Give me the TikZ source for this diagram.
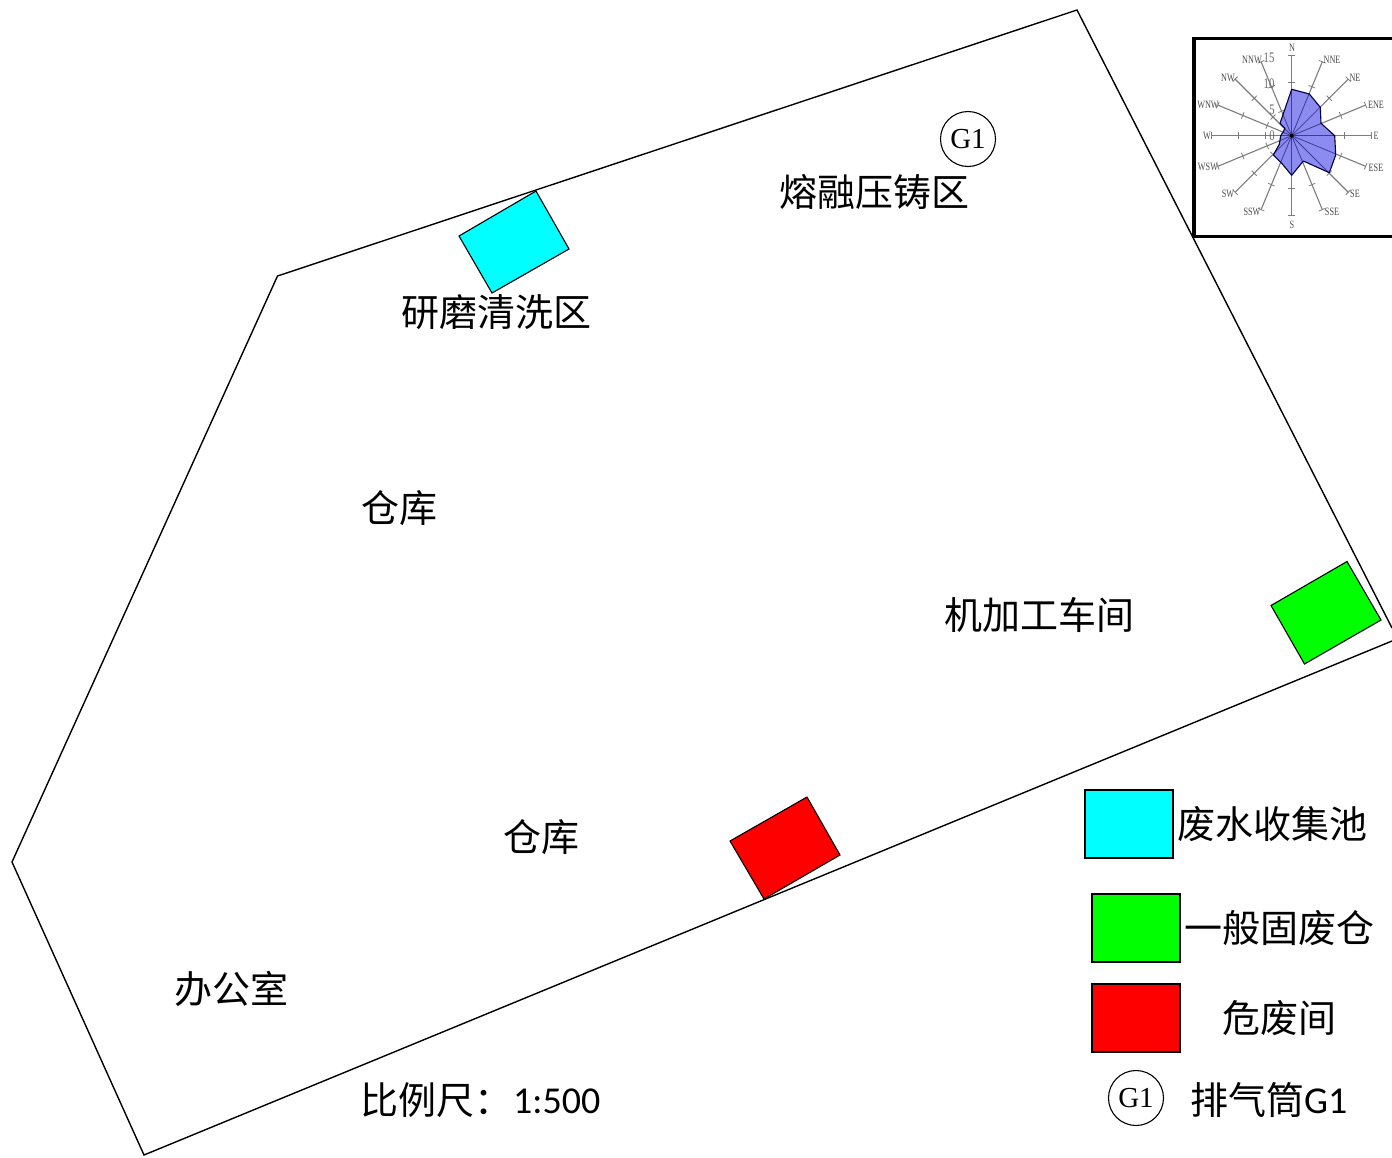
\documentclass[tikz,border=0pt]{standalone}
\usepackage{graphicx}
\usepackage{fontspec}
\setmainfont{Liberation Serif}
\newfontfamily\cjk{Noto Sans CJK SC}
\newfontfamily\lat{Carlito}
\usetikzlibrary{calc}
\definecolor{rosefill}{RGB}{140,140,240}
\definecolor{spoke}{RGB}{125,125,125}
\definecolor{poolcyan}{RGB}{0,255,255}
\definecolor{poolgreen}{RGB}{0,255,0}
\definecolor{poolred}{RGB}{255,0,0}
\definecolor{innerspoke}{RGB}{60,60,150}
\newcommand{\rosepoly}{(1291.7,89.3) -- (1309.3,94) -- (1320.3,107.3) -- (1321,123.3) -- (1334.7,135.7) -- (1335.7,155) -- (1329.3,172.7) -- (1303.3,161) -- (1291.7,175.3) -- (1281.7,163.3) -- (1273.3,155) -- (1279.3,144.3) -- (1280.7,135.7) -- (1283.3,131.7) -- (1285,128.3) -- (1280,123.3) -- cycle}
\newcommand{\rl}[1]{\scalebox{.82}[1.12]{#1}}
\tikzset{
  x=1pt,y=-1pt,
  outline/.style={draw=black,line width=1.4pt},
  zone/.style={font=\cjk\fontsize{38}{38}\selectfont,inner sep=0pt,anchor=center},
  swatch/.style={draw=black,line width=1.1pt},
  stack/.style={circle,draw=black,line width=1.1pt,fill=white,minimum size=55pt,inner sep=0pt,font=\fontsize{29}{29}\selectfont},
  rosebox/.style={draw=black,line width=3.2pt,fill=white},
  rosespoke/.style={draw=spoke,line width=1.1pt},
  rosetick/.style={draw=spoke,line width=0.8pt},
  roselabel/.style={font=\fontsize{10}{10}\selectfont,text=black!70,inner sep=0pt},
  rosenum/.style={font=\fontsize{13}{13}\selectfont,text=black!60,inner sep=0pt},
}
\begin{document}
\begin{tikzpicture}
\useasboundingbox (0,0) rectangle (1392,1157);
\fill[white] (0,0) rectangle (1392,1157);
% site outline
\coordinate (a) at (277.5,276);
\coordinate (b) at (1077,10);
\coordinate (c) at (1392,628);
\coordinate (d) at (1392,641);
\coordinate (e) at (144,1155);
\coordinate (f) at (12,862);
\draw[outline,line join=miter] (c) -- (b) -- (a) -- (f) -- (e) -- (d);
% pools
\draw[swatch,fill=poolcyan] (459,236) -- (536,191) -- (569,249) -- (492,293) -- cycle;
\draw[swatch,fill=poolgreen] (1271,605.5) -- (1347,561.5) -- (1381,620) -- (1304.5,664) -- cycle;
\draw[swatch,fill=poolred] (730,841) -- (807,797) -- (840,855) -- (764,899) -- cycle;
% stack
\node[stack] (g1) at (968,139) {G1};
% labels
\node[zone] (z1) at (874,191.5) {熔融压铸区};
\node[zone] (z2) at (496,312.5) {研磨清洗区};
\node[zone] (z3) at (399,508.5) {仓库};
\node[zone] (z4) at (1039,614.5) {机加工车间};
\node[zone] (z5) at (541,837.5) {仓库};
\node[zone] (z6) at (231,988.5) {办公室};
\node[zone,anchor=west] (scale) at (360,1100.5) {比例尺：\kern1pt\raisebox{1pt}{\lat 1:500}};
% legend
\draw[swatch,fill=poolcyan] (1085,790) rectangle (1173,858);
\draw[swatch,fill=poolgreen] (1092,894) rectangle (1180,962);
\draw[swatch,fill=poolred] (1092,984) rectangle (1180,1052);
\node[zone] (l1) at (1272,824.5) {废水收集池};
\node[zone] (l2) at (1279,928.5) {一般固废仓};
\node[zone] (l3) at (1279,1018.5) {危废间};
\node[stack] (g2) at (1136,1098) {G1};
\node[zone,anchor=west] (l4) at (1190,1100) {排气筒\raisebox{1pt}{\lat G1}};
% wind rose
\draw[rosebox] (1194,38.5) rectangle (1394,236.5);
\coordinate (o) at (1291.7,135.7);
\foreach \ang in {90,67.5,45,22.5,0,-22.5,-45,-67.5,-90,-112.5,-135,-157.5,180,157.5,135,112.5}{
  \draw[rosespoke] (o) -- ($(o)+({80*cos(\ang)},{-80*sin(\ang)})$);
  \foreach \k in {26.5,53,80}{
    \draw[rosetick] ($(o)+({\k*cos(\ang)-3.5*sin(\ang)},{-\k*sin(\ang)-3.5*cos(\ang)})$) -- ($(o)+({\k*cos(\ang)+3.5*sin(\ang)},{-\k*sin(\ang)+3.5*cos(\ang)})$);
  }
}
\fill[rosefill] \rosepoly;
\begin{scope}
\clip \rosepoly;
\foreach \ang in {90,67.5,45,22.5,0,-22.5,-45,-67.5,-90,-112.5,-135,-157.5,180,157.5,135,112.5}{
  \draw[draw=innerspoke,line width=.8pt] (o) -- ($(o)+({80*cos(\ang)},{-80*sin(\ang)})$);
}
\end{scope}
\draw[draw=black!75!blue,line width=1.1pt,line join=round] \rosepoly;
\fill[black] (o) circle (2pt);
\node[roselabel] at (1292,48) {\rl{N}};
\node[roselabel] at (1332,60) {\rl{NNE}};
\node[roselabel] at (1355,78) {\rl{NE}};
\node[roselabel] at (1376,105) {\rl{ENE}};
\node[roselabel] at (1376,136) {\rl{E}};
\node[roselabel] at (1376,168) {\rl{ESE}};
\node[roselabel] at (1355,194) {\rl{SE}};
\node[roselabel] at (1332,212) {\rl{SSE}};
\node[roselabel] at (1292,225) {\rl{S}};
\node[roselabel] at (1252,212) {\rl{SSW}};
\node[roselabel] at (1228,194) {\rl{SW}};
\node[roselabel] at (1208,167) {\rl{WSW}};
\node[roselabel] at (1207,136) {\rl{W}};
\node[roselabel] at (1208,105) {\rl{WNW}};
\node[roselabel] at (1228,78) {\rl{NW}};
\node[roselabel] at (1252,60) {\rl{NNW}};
\node[rosenum] at (1269,58) {\rl{15}};
\node[rosenum] at (1269,84) {\rl{10}};
\node[rosenum] at (1272,110) {\rl{5}};
\node[rosenum] at (1272,136) {\rl{0}};
\end{tikzpicture}
\end{document}
